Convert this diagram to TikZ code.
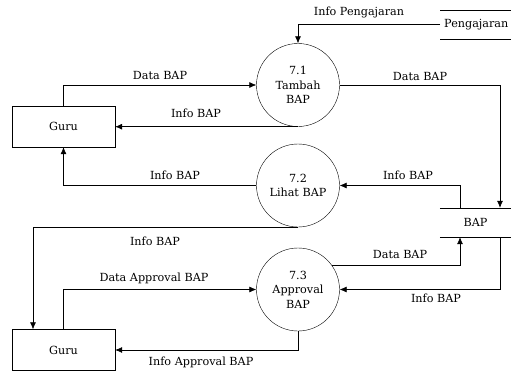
\documentclass[tikz,border=0pt]{standalone}
\usepackage{fontspec}
\setmainfont{DejaVu Serif}
\usetikzlibrary{arrows.meta}
\begin{document}
\begin{tikzpicture}[x=1pt,y=-1pt,
  every node/.style={font=\fontsize{11.2}{14.5}\selectfont},
  proc/.style={circle,draw,minimum size=83pt,inner sep=0pt,align=center},
  ent/.style={rectangle,draw,minimum width=103pt,minimum height=41pt},
  store/.style={rectangle,minimum width=71pt,minimum height=29pt},
  flow/.style={-{Latex[length=7pt,width=6pt]},line width=0.6pt},
  lbl/.style={inner sep=1pt}]
\useasboundingbox (0,0) rectangle (511,372);
\node[ent] (g1) at (63.5,126.5) {Guru};
\node[ent] (g2) at (63.5,350) {Guru};
\node[proc] (p1) at (298,85) {7.1\\Tambah\\BAP};
\node[proc] (p2) at (298,185.5) {7.2\\Lihat BAP};
\node[proc] (p3) at (298,289.5) {7.3\\Approval\\BAP};
\node[store] (bap) at (475.5,222.5) {BAP};
\node[store,anchor=west,text width=66pt,inner xsep=4pt,align=left] (peng) at (440,24.5) {Pengajaran};
\draw[line width=0.6pt] (bap.north west) -- (bap.north east) (bap.south west) -- (bap.south east);
\draw[line width=0.6pt] (peng.north west) -- (peng.north east) (peng.south west) -- (peng.south east);
% flows
\draw[flow] (peng.west) -| (p1.north);
\draw[flow] (g1.north) |- (p1.west);
\draw[flow] (p1.south) -- (g1.east |- p1.south);
\draw[flow] (p1.east) -| ([xshift=24.5]bap.north);
\draw[flow] ([xshift=-15.5]bap.north) |- (p2.east);
\draw[flow] (p2.west) -| (g1.south);
\draw[flow] (p2.south) -| ([xshift=-30.5]g2.north);
\draw[flow] (g2.north) |- (p3.west);
\draw[flow] (p3.35) -| ([xshift=-15.5]bap.south);
\draw[flow] ([xshift=24.5]bap.south) |- (p3.east);
\draw[flow] (p3.south) |- (g2.east);
% labels
\node[lbl] (l1) at (359,12) {Info Pengajaran};
\node[lbl] (l2) at (160,75) {Data BAP};
\node[lbl] (l3) at (196,113) {Info BAP};
\node[lbl] (l4) at (420,76) {Data BAP};
\node[lbl] (l5) at (408,175) {Info BAP};
\node[lbl] (l6) at (175,175) {Info BAP};
\node[lbl] (l7) at (155,241) {Info BAP};
\node[lbl] (l8) at (154,278) {Data Approval BAP};
\node[lbl] (l9) at (400,254) {Data BAP};
\node[lbl] (l10) at (436,298) {Info BAP};
\node[lbl] (l11) at (201,362) {Info Approval BAP};
\end{tikzpicture}
\end{document}
